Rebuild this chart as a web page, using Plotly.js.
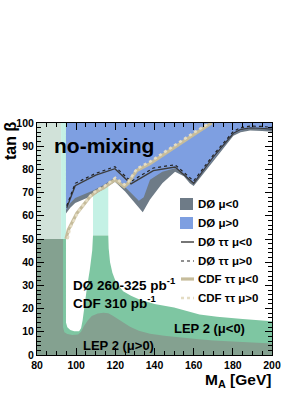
<!DOCTYPE html>
<html>
<head>
<meta charset="utf-8">
<script src="https://cdn.plot.ly/plotly-3.0.1.min.js"></script>
<style>html,body{margin:0;padding:0;background:#fff;}#chart{width:308px;height:398px;}</style>
</head>
<body>
<div id="chart"></div>
<script>
// ---- data ----
const lepHighDarkX = [80, 92.3, 92.3, 80];
const lepHighDarkY = [50, 50, 100, 100];
const lepHighGreenLeftX = [92.3, 94.8, 94.8, 92.3];
const lepHighGreenLeftY = [50, 50, 100, 100];
const lepHighGreenBandX = [108.6, 116.4, 116.4, 108.6];
const lepHighGreenBandY = [51.5, 51.5, 90, 90];

const lepNegX = [80, 94.8, 94.8, 95.5, 97, 99, 101.5, 102.5, 103.3, 104.3, 105.5, 107, 108.2, 108.6, 116.4, 116.6, 117.3, 118.5, 119.8, 122, 124, 128, 132, 140, 150, 163, 172, 185, 200, 200, 80];
const lepNegY = [50, 50, 14, 12, 10.8, 10.2, 10.2, 11.5, 15, 22, 29, 37, 45, 51.5, 51.5, 46, 40, 35.5, 32.5, 29.5, 27.5, 25.5, 24, 22, 20.5, 17.5, 16.5, 15.5, 14.6, 0, 0];

const lepPosX = [80, 93.3, 93.3, 94, 95.5, 98, 101, 102.5, 104, 106, 108, 111, 114, 116.4, 118.5, 121, 124, 127.5, 132, 137.7, 145, 150, 160, 170, 185, 200, 200, 80];
const lepPosY = [50, 50, 12, 9.8, 9, 8.6, 8.8, 10, 12.5, 15, 16.8, 17.9, 18.2, 18, 17, 15.6, 13.8, 12.2, 10.5, 9.2, 8.3, 7.8, 7, 6.3, 5.6, 5, 0, 0];

const d0NegLowX = [94.8, 97, 99.5, 104, 109, 114, 119.8, 125, 130, 134, 137.7, 144, 150.5, 155, 158, 160, 170, 180.3, 184, 188.8, 195, 200];
const d0NegLowY = [61, 63.5, 65.5, 67.3, 69, 71.5, 74.7, 70.5, 65.5, 61.5, 67, 74, 79, 77, 74, 72.8, 83.5, 94.5, 96, 96.8, 96.6, 96.2];

const d0PosLowX = [94.8, 97, 99.5, 104, 109, 114, 119.8, 126, 132, 134.5, 137.7, 144, 150.5, 155, 160, 170, 180.3, 184, 188.8, 195, 200];
const d0PosLowY = [62.5, 65.5, 67.7, 69.3, 71, 73.3, 76.5, 71.5, 66.5, 68, 75.5, 79, 80.5, 78, 73.8, 84.5, 95.3, 96.8, 97.6, 97.4, 97];

const d0TauNegX = [95.2, 99.5, 110, 119.8, 128, 139.4, 150.5, 160, 170, 180.3, 184, 188.8, 195, 200];
const d0TauNegY = [63.5, 73, 77.5, 80.3, 73.8, 79.5, 81, 74, 85.3, 95.6, 97.2, 97.9, 97.7, 97.3];
const d0TauPosX = [95.2, 99.5, 110, 119.8, 128, 139.4, 150.5, 160, 170, 180.3, 184, 188.8, 195, 200];
const d0TauPosY = [64.3, 74, 78.3, 81.2, 74.8, 80.6, 82, 75, 86.2, 96.4, 98, 98.7, 98.5, 98.1];

const cdfNegX = [94.8, 96, 100.3, 104, 107, 110.5, 114, 119.8, 124.5, 126.5, 130.9, 137.7, 150, 160, 169.2];
const cdfNegY = [50, 54, 61, 65, 68.2, 70.5, 72, 75.5, 72.5, 74, 79.5, 82.5, 89.5, 95, 100];
const cdfPosX = [95.6, 96.8, 101, 104.6, 107.6, 111, 114.5, 120, 124.6, 126.8, 131, 137.7, 150, 160, 168];
const cdfPosY = [50, 54.5, 61.8, 65.8, 69, 71.3, 72.8, 76.3, 73.4, 74.9, 80.3, 83.3, 90.3, 95.8, 100];

const xTickVals = [80, 100, 120, 140, 160, 180, 200];
const yTickVals = [0, 10, 20, 30, 40, 50, 60, 70, 80, 90, 100];

const legendLabels = [
  'DØ μ<0',
  'DØ μ>0',
  'DØ ττ μ<0',
  'DØ ττ μ>0',
  'CDF ττ μ<0',
  'CDF ττ μ>0'
];

// ---- styles ----
const C = {
  lightDark: '#d1e2d9',
  cyan: '#c4f1e5',
  green: '#7ec6a2',
  dark: '#84a190',
  gray: '#6e7b87',
  blue: '#7e9fe1',
  line: '#3c3c3c',
  cdf: '#c6bc9b',
  cdfDot: '#e4dcc3'
};
const FONT = 'Liberation Sans, Arial, Helvetica, sans-serif';

function area(x, y, color) {
  return {x: x, y: y, type: 'scatter', mode: 'lines', fill: 'toself', fillcolor: color,
          line: {width: 0, color: color}, hoverinfo: 'skip', showlegend: false};
}
function polyTop(x, y) {
  const px = x.slice(), py = y.slice();
  px.push(x[x.length - 1], x[0]);
  py.push(100, 100);
  return [px, py];
}
const gNeg = polyTop(d0NegLowX, d0NegLowY);
const gPos = polyTop(d0PosLowX, d0PosLowY);

const traces = [
  area(lepHighDarkX, lepHighDarkY, C.lightDark),
  area(lepHighGreenLeftX, lepHighGreenLeftY, C.cyan),
  area(lepHighGreenBandX, lepHighGreenBandY, C.cyan),
  area(lepNegX, lepNegY, C.green),
  area(lepPosX, lepPosY, C.dark),
  area(gNeg[0], gNeg[1], C.gray),
  area(gPos[0], gPos[1], C.blue),
  {x: d0TauNegX, y: d0TauNegY, type: 'scatter', mode: 'lines', line: {color: C.line, width: 1.4}, showlegend: false, hoverinfo: 'skip'},
  {x: d0TauPosX, y: d0TauPosY, type: 'scatter', mode: 'lines', line: {color: '#222', width: 1.2, dash: 'dot'}, showlegend: false, hoverinfo: 'skip'},
  {x: cdfNegX, y: cdfNegY, type: 'scatter', mode: 'lines', line: {color: C.cdf, width: 3.2}, showlegend: false, hoverinfo: 'skip'},
  {x: cdfPosX, y: cdfPosY, type: 'scatter', mode: 'lines', line: {color: C.cdfDot, width: 2.6, dash: 'dot'}, showlegend: false, hoverinfo: 'skip'}
];

// pixel helpers (plot area: x 37..272, y 123..355)
const L = 37, T = 123, W = 235, H = 232;
const px = v => (v - L) / W;
const py = v => (T + H - v) / H;

const legendRows = [204, 223, 242, 261, 279, 298];
const shapes = [
  {type: 'rect', xref: 'paper', yref: 'paper', x0: px(180), x1: px(193), y0: py(210), y1: py(198), fillcolor: C.gray, line: {width: 0}},
  {type: 'rect', xref: 'paper', yref: 'paper', x0: px(180), x1: px(193), y0: py(229), y1: py(217), fillcolor: C.blue, line: {width: 0}},
  {type: 'line', xref: 'paper', yref: 'paper', x0: px(181), x1: px(194), y0: py(legendRows[2]), y1: py(legendRows[2]), line: {color: C.line, width: 1.4}},
  {type: 'line', xref: 'paper', yref: 'paper', x0: px(181), x1: px(194), y0: py(legendRows[3]), y1: py(legendRows[3]), line: {color: '#222', width: 1.2, dash: 'dot'}},
  {type: 'line', xref: 'paper', yref: 'paper', x0: px(181), x1: px(194), y0: py(legendRows[4]), y1: py(legendRows[4]), line: {color: C.cdf, width: 3.2}},
  {type: 'line', xref: 'paper', yref: 'paper', x0: px(181), x1: px(194), y0: py(legendRows[5]), y1: py(legendRows[5]), line: {color: C.cdfDot, width: 2.6, dash: 'dot'}}
];

function txt(text, x, y, size, opts) {
  return Object.assign({text: text, xref: 'paper', yref: 'paper', x: px(x), y: py(y),
    xanchor: 'left', yanchor: 'middle', showarrow: false,
    font: {family: FONT, size: size, color: '#000', weight: 'bold'}}, opts || {});
}
const annotations = [
  txt('no-mixing', 52, 145, 21),
  txt('DØ 260-325 pb<sup>-1</sup>', 71, 284, 13.5),
  txt('CDF 310 pb<sup>-1</sup>', 71, 302, 13.5),
  txt('LEP 2 (μ>0)', 81, 345, 13),
  txt('LEP 2 (μ<0)', 172, 328, 13),
  txt('tan β', 10, 141, 16, {textangle: -90, xanchor: 'center'}),
  txt('M<sub>A</sub> [GeV]', 273, 380, 15.5, {xanchor: 'right'})
];
legendLabels.forEach((t, i) => annotations.push(txt(t, 196, legendRows[i], 11.5)));

const axisCommon = {
  showline: true, linecolor: '#000', linewidth: 1, mirror: 'ticks',
  ticks: 'inside', ticklen: 7, tickwidth: 1, tickcolor: '#000',
  showgrid: false, zeroline: false, fixedrange: true,
  tickfont: {family: FONT, size: 10.5, color: '#000', weight: 'bold'}
};
const layout = {
  width: 308, height: 398,
  margin: {l: L, r: 308 - L - W, t: T, b: 398 - T - H, pad: 0},
  paper_bgcolor: '#fff', plot_bgcolor: '#fff',
  showlegend: false,
  xaxis: Object.assign({}, axisCommon, {range: [80, 200], tickvals: xTickVals,
    minor: {dtick: 5, tick0: 80, ticks: 'inside', ticklen: 4, tickcolor: '#000'}}),
  yaxis: Object.assign({}, axisCommon, {range: [0, 100], tickvals: yTickVals,
    minor: {dtick: 2, tick0: 0, ticks: 'inside', ticklen: 4, tickcolor: '#000'}}),
  shapes: shapes,
  annotations: annotations
};
Plotly.newPlot('chart', traces, layout, {displayModeBar: false, staticPlot: true});
</script>
</body>
</html>
